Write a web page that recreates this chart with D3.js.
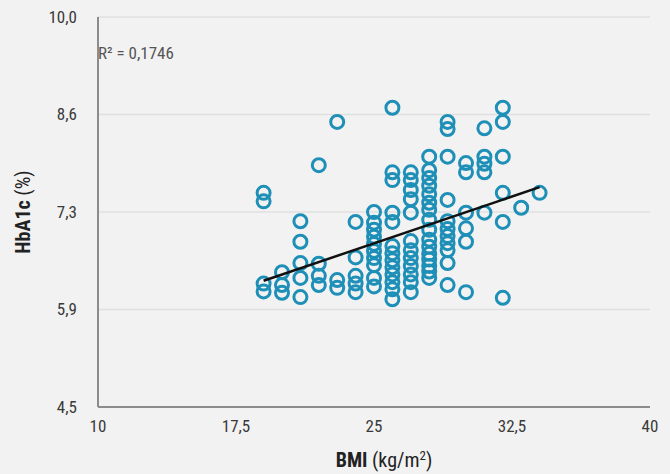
<!DOCTYPE html>
<html>
<head>
<meta charset="utf-8">
<script src="https://cdn.jsdelivr.net/npm/d3@7"></script>
<style>
  body { margin: 0; background: #f2f2f2; overflow: hidden; }
  svg { display: block; }
  .tick-label { font-family: "Liberation Sans Narrow", "Roboto Condensed", "Liberation Sans", Arial, sans-serif; font-size: 17px; fill: #3a3a3a; }
</style>
</head>
<body>
<div id="chart"></div>
<script>
// data: BMI (x) and HbA1c (y)
var bmi = [
  19, 19, 19, 19,
  20, 20, 20,
  21, 21, 21, 21, 21,
  22, 22, 22, 22,
  23, 23, 23,
  24, 24, 24, 24, 24,
  25, 25, 25, 25, 25, 25, 25, 25, 25, 25,
  26, 26, 26, 26, 26, 26, 26, 26, 26, 26, 26, 26, 26,
  27, 27, 27, 27, 27, 27, 27, 27, 27, 27, 27, 27,
  28, 28, 28, 28, 28, 28, 28, 28, 28, 28, 28, 28, 28, 28, 28, 28,
  29, 29, 29, 29, 29, 29, 29, 29, 29, 29, 29,
  30, 30, 30, 30, 30, 30,
  31, 31, 31, 31, 31,
  32, 32, 32, 32, 32, 32,
  33,
  34
];
var hba1c = [
  7.52, 7.40, 6.24, 6.13,
  6.40, 6.22, 6.11,
  7.12, 6.83, 6.53, 6.32, 6.05,
  7.91, 6.52, 6.35, 6.22,
  8.52, 6.29, 6.18,
  7.11, 6.61, 6.35, 6.24, 6.12,
  7.25, 7.10, 7.00, 6.90, 6.80, 6.70, 6.60, 6.50, 6.32, 6.20,
  8.72, 7.81, 7.70, 7.24, 7.11, 6.77, 6.67, 6.57, 6.47, 6.37, 6.26, 6.16, 6.02,
  7.81, 7.70, 7.56, 7.43, 7.24, 6.84, 6.71, 6.60, 6.49, 6.37, 6.26, 6.12,
  8.03, 7.84, 7.73, 7.62, 7.50, 7.38, 7.28, 7.14, 7.00, 6.86, 6.76, 6.66, 6.58, 6.49, 6.41, 6.32,
  8.52, 8.42, 8.03, 7.42, 7.12, 7.01, 6.91, 6.81, 6.71, 6.53, 6.22,
  7.94, 7.81, 7.24, 7.02, 6.83, 6.12,
  8.43, 8.03, 7.93, 7.81, 7.24,
  8.72, 8.52, 8.03, 7.52, 7.11, 6.04,
  7.31,
  7.52
];
// trend line end points
var trendX = [19, 34];
var trendY = [6.28, 7.60];

var xTicks = [10, 17.5, 25, 32.5, 40];
var yTicks = [4.5, 5.875, 7.25, 8.625, 10];
var r2Text = "R\u00b2 = 0,1746";

var margin = {top: 17, right: 20, bottom: 67, left: 98};
var width = 670, height = 474;
var innerWidth = 650 - margin.left;
var innerHeight = 407 - margin.top;

var svg = d3.select("#chart").append("svg")
    .attr("width", width)
    .attr("height", height);

svg.append("rect").attr("width", width).attr("height", height).attr("fill", "#f2f2f2");

var g = svg.append("g")
    .attr("transform", "translate(" + margin.left + "," + margin.top + ")");

var xScale = d3.scaleLinear().domain([10, 40]).range([0, innerWidth]);
var yScale = d3.scaleLinear().domain([4.5, 10]).range([innerHeight, 0]);

var comma = function(s) { return String(s).replace(".", ","); };

// gridlines
g.selectAll(".grid").data(yTicks.slice(1)).enter().append("line")
    .attr("x1", 0).attr("x2", innerWidth)
    .attr("y1", d => yScale(d)).attr("y2", d => yScale(d))
    .attr("stroke", "#e0e0e0").attr("stroke-width", 1.5);

// axis lines
g.append("line").attr("x1", 0).attr("x2", 0).attr("y1", 0).attr("y2", innerHeight)
    .attr("stroke", "#8c8c8c").attr("stroke-width", 2);
g.append("line").attr("x1", 0).attr("x2", innerWidth).attr("y1", innerHeight).attr("y2", innerHeight)
    .attr("stroke", "#8c8c8c").attr("stroke-width", 2);

// y tick labels
g.selectAll(".ylab").data(yTicks).enter().append("text")
    .attr("class", "tick-label")
    .attr("x", -21)
    .attr("y", d => yScale(d))
    .attr("dy", "0.35em")
    .attr("text-anchor", "end")
    .text(d => comma(d.toFixed(1)));

// x tick labels
g.selectAll(".xlab").data(xTicks).enter().append("text")
    .attr("class", "tick-label")
    .attr("x", d => xScale(d))
    .attr("y", innerHeight + 25)
    .attr("text-anchor", "middle")
    .text(d => comma(d));

// axis titles
var xt = svg.append("text")
    .attr("x", 384)
    .attr("y", 467)
    .attr("text-anchor", "middle")
    .attr("class", "tick-label")
    .style("font-size", "20px")
    .style("fill", "#222");
xt.append("tspan").attr("font-weight", "bold").text("BMI ");
xt.append("tspan").text("(kg/m");
xt.append("tspan").attr("dy", -7).style("font-size", "13px").text("2");
xt.append("tspan").attr("dy", 7).text(")");

var yt = svg.append("text")
    .attr("transform", "translate(30," + (margin.top + innerHeight / 2) + ") rotate(-90)")
    .attr("text-anchor", "middle")
    .attr("class", "tick-label")
    .style("font-size", "20px")
    .style("fill", "#222");
yt.append("tspan").attr("font-weight", "bold").text("HbA1c ");
yt.append("tspan").text("(%)");

// points
var pts = bmi.map((b, i) => ({x: b, y: hba1c[i]}));
g.selectAll(".pt").data(pts).enter().append("circle")
    .attr("cx", d => xScale(d.x))
    .attr("cy", d => yScale(d.y))
    .attr("r", 6.5)
    .attr("fill", "none")
    .attr("stroke", "#1e8fb7")
    .attr("stroke-width", 3);

// trend line
var line = d3.line().x(d => xScale(d[0])).y(d => yScale(d[1]));
g.append("path")
    .datum(trendX.map((v, i) => [v, trendY[i]]))
    .attr("d", line)
    .attr("stroke", "#111")
    .attr("stroke-width", 2.5)
    .attr("fill", "none");

// R squared
g.append("text")
    .attr("class", "tick-label")
    .attr("x", 0)
    .attr("y", 36)
    .attr("dy", "0.35em")
    .style("font-size", "17px")
    .style("fill", "#555")
    .text(r2Text);
</script>
</body>
</html>
